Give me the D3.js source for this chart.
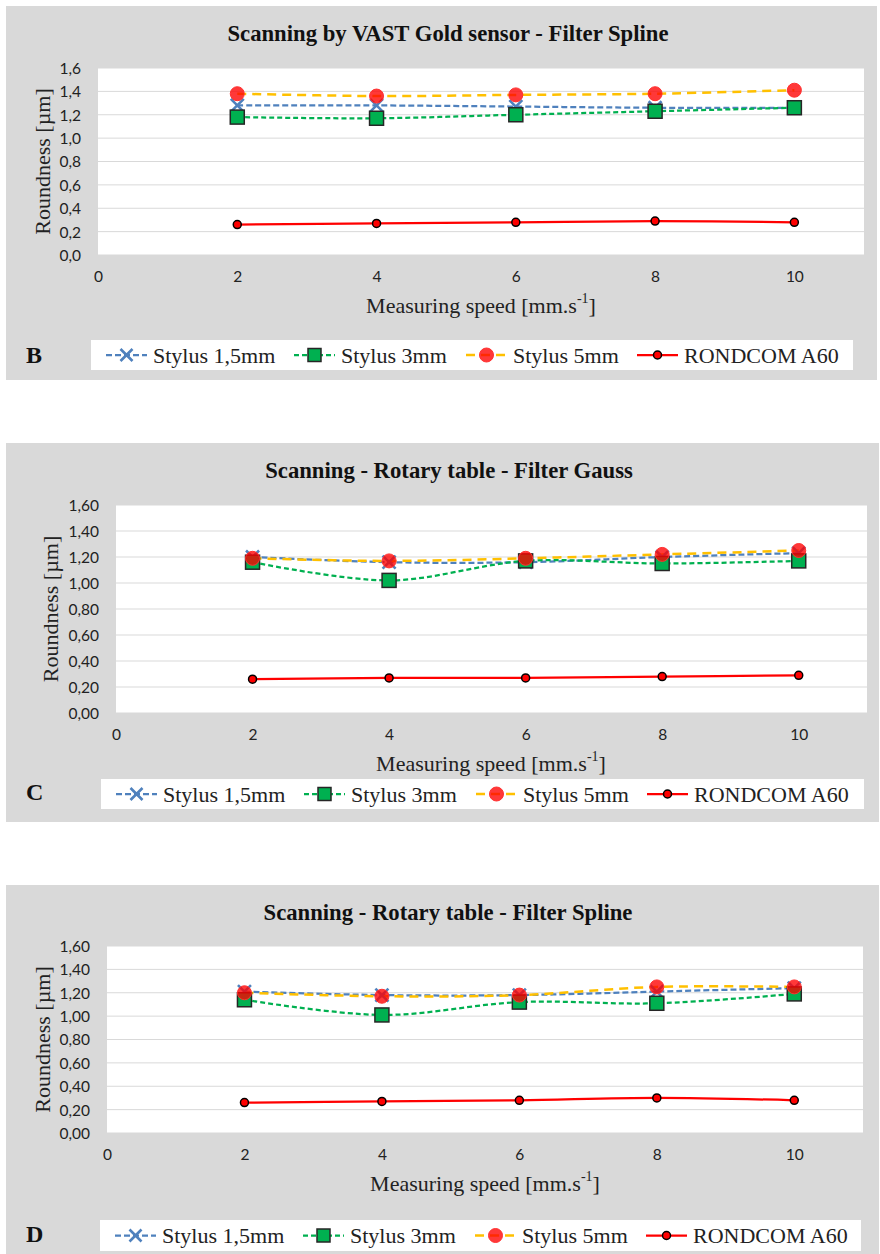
<!DOCTYPE html>
<html><head><meta charset="utf-8">
<script src="https://cdn.jsdelivr.net/npm/d3@7"></script>
<style>body{margin:0;background:#fff}</style>
</head><body><svg id="c" width="880" height="1254"></svg>
<script>
// ---------- DATA ----------
const speeds = [2, 4, 6, 8, 10];
const xTickValues = [0, 2, 4, 6, 8, 10];
const yTickValues = [0, 0.2, 0.4, 0.6, 0.8, 1.0, 1.2, 1.4, 1.6];
const seriesNames = ["Stylus 1,5mm", "Stylus 3mm", "Stylus 5mm", "RONDCOM A60"];
const panelLetters = ["B", "C", "D"];
const panelTitles = [
  "Scanning by VAST Gold sensor - Filter Spline",
  "Scanning - Rotary table - Filter Gauss",
  "Scanning - Rotary table - Filter Spline"
];
const tickDecimals = [1, 2, 2];
const xAxisTitle = "Measuring speed [mm.s";
const xAxisTitleSup = "-1";
const yAxisTitle = "Roundness [µm]";

// Panel B – VAST Gold sensor, Filter Spline
const stylus15B = [1.28, 1.28, 1.27, 1.26, 1.26];
const stylus3B  = [1.18, 1.17, 1.20, 1.23, 1.26];
const stylus5B  = [1.38, 1.36, 1.37, 1.38, 1.41];
const rondcomB  = [0.26, 0.27, 0.28, 0.29, 0.28];
// Panel C – Rotary table, Filter Gauss
const stylus15C = [1.20, 1.16, 1.16, 1.20, 1.23];
const stylus3C  = [1.16, 1.02, 1.17, 1.15, 1.17];
const stylus5C  = [1.19, 1.17, 1.19, 1.22, 1.25];
const rondcomC  = [0.26, 0.27, 0.27, 0.28, 0.29];
// Panel D – Rotary table, Filter Spline
const stylus15D = [1.21, 1.18, 1.18, 1.21, 1.24];
const stylus3D  = [1.14, 1.01, 1.12, 1.11, 1.19];
const stylus5D  = [1.20, 1.17, 1.18, 1.25, 1.25];
const rondcomD  = [0.26, 0.27, 0.28, 0.30, 0.28];

const panelData = [
  [stylus15B, stylus3B, stylus5B, rondcomB],
  [stylus15C, stylus3C, stylus5C, rondcomC],
  [stylus15D, stylus3D, stylus5D, rondcomD]
];

// ---------- STYLE / LAYOUT ----------
const styles = [
  {color: "#4F81BD", dash: "6,3", width: 2.25, marker: "x"},
  {color: "#00B050", dash: "5,3", width: 2.25, marker: "square"},
  {color: "#FFC000", dash: "9,6", width: 2.5, marker: "circle"},
  {color: "#FF0000", dash: null, width: 2.25, marker: "dot"}
];
const layouts = [
  {gray: [6, 6, 871, 374], plot: {l: 98, t: 68, r: 864, b: 255}, title: {x: 448, y: 33},
   tickY: 277, xTitle: {x: 481, y: 305}, yTitleX: 42, legend: {x: 91, y: 340, w: 762, h: 30}, letter: {x: 26, y: 355}},
  {gray: [6, 443, 873, 379], plot: {l: 116, t: 505, r: 867, b: 713}, title: {x: 449, y: 470},
   tickY: 735, xTitle: {x: 491, y: 763}, yTitleX: 50, legend: {x: 101, y: 779, w: 763, h: 30}, letter: {x: 26, y: 792}},
  {gray: [6, 885, 873, 369], plot: {l: 107, t: 946, r: 863, b: 1133}, title: {x: 448, y: 912},
   tickY: 1155, xTitle: {x: 485, y: 1183}, yTitleX: 42, legend: {x: 100, y: 1220, w: 761, h: 31}, letter: {x: 26, y: 1234}}
];
const legendOffsets = [15, 203, 375, 546];
const SERIF = "'Liberation Serif','Times New Roman',serif";
const SANS = "Lato,'Open Sans',sans-serif";

const svg = d3.select("#c");

function drawMarker(g, type, x, y, legend) {
  if (type === "x") {
    const s = legend ? 6 : 6.5;
    g.append("path").attr("d", `M${x - s},${y - s}L${x + s},${y + s}M${x - s},${y + s}L${x + s},${y - s}`)
      .attr("stroke", "#4F81BD").attr("stroke-width", 2.6).attr("fill", "none");
  } else if (type === "square") {
    const s = legend ? 6.5 : 7;
    g.append("rect").attr("x", x - s).attr("y", y - s).attr("width", 2 * s).attr("height", 2 * s)
      .attr("fill", "#00B050").attr("stroke", "#262626").attr("stroke-width", 1.5);
  } else if (type === "circle") {
    g.append("circle").attr("cx", x).attr("cy", y).attr("r", 7)
      .attr("fill", "#FF0000").attr("fill-opacity", 0.78).attr("stroke", "#FF3030").attr("stroke-width", 1);
  } else {
    g.append("circle").attr("cx", x).attr("cy", y).attr("r", 4)
      .attr("fill", "#FF0000").attr("stroke", "#000").attr("stroke-width", 1.5);
  }
}

layouts.forEach((L, pi) => {
  const g = svg.append("g");
  g.append("rect").attr("x", L.gray[0]).attr("y", L.gray[1]).attr("width", L.gray[2]).attr("height", L.gray[3])
    .attr("fill", "#D9D9D9");
  const P = L.plot;
  g.append("rect").attr("x", P.l).attr("y", P.t).attr("width", P.r - P.l).attr("height", P.b - P.t).attr("fill", "#fff");

  const x = d3.scaleLinear().domain([0, 11]).range([P.l, P.r]);
  const y = d3.scaleLinear().domain([0, 1.6]).range([P.b, P.t]);

  // gridlines
  g.selectAll(null).data(yTickValues).enter().append("line")
    .attr("x1", P.l).attr("x2", P.r).attr("y1", d => y(d)).attr("y2", d => y(d))
    .attr("stroke", "#D9D9D9").attr("stroke-width", 1);

  // y axis (labels only)
  const fmt = v => v.toFixed(tickDecimals[pi]).replace(".", ",");
  const yAxis = d3.axisLeft(y).tickValues(yTickValues).tickFormat(fmt).tickSize(0).tickPadding(17);
  const ya = g.append("g").attr("transform", `translate(${P.l},0)`).call(yAxis);
  ya.select(".domain").remove();
  ya.selectAll("text").attr("font-family", SANS).attr("font-size", 15.5).attr("fill", "#222").attr("dy", "0.35em");

  // x axis (labels only)
  const xAxis = d3.axisBottom(x).tickValues(xTickValues).tickFormat(d3.format("d")).tickSize(0).tickPadding(0);
  const xa = g.append("g").attr("transform", `translate(0,${L.tickY})`).call(xAxis);
  xa.select(".domain").remove();
  xa.selectAll("text").attr("font-family", SANS).attr("font-size", 15.5).attr("fill", "#222").attr("dy", "0.35em").attr("y", 0);

  // series lines
  const line = d3.line().x((d, i) => x(speeds[i])).y(d => y(d)).curve(d3.curveCatmullRom.alpha(0.5));
  panelData[pi].forEach((vals, si) => {
    const st = styles[si];
    g.append("path").datum(vals).attr("d", line).attr("fill", "none")
      .attr("stroke", st.color).attr("stroke-width", st.width)
      .attr("stroke-dasharray", st.dash);
  });
  panelData[pi].forEach((vals, si) => {
    vals.forEach((v, i) => drawMarker(g, styles[si].marker, x(speeds[i]), y(v), false));
  });

  // titles
  g.append("text").attr("x", L.title.x).attr("y", L.title.y).attr("text-anchor", "middle")
    .attr("dominant-baseline", "central").attr("font-family", SERIF).attr("font-weight", "bold")
    .attr("font-size", 22.7).attr("fill", "#111").text(panelTitles[pi]);
  const xt = g.append("text").attr("x", L.xTitle.x).attr("y", L.xTitle.y).attr("text-anchor", "middle")
    .attr("dominant-baseline", "central").attr("font-family", SERIF).attr("font-size", 22).attr("fill", "#222");
  xt.append("tspan").text(xAxisTitle);
  xt.append("tspan").attr("dy", -7).attr("font-size", 14).text(xAxisTitleSup);
  xt.append("tspan").attr("dy", 7).text("]");
  const cy = (P.t + P.b) / 2;
  g.append("text").attr("transform", `translate(${L.yTitleX},${cy}) rotate(-90)`).attr("text-anchor", "middle")
    .attr("dominant-baseline", "central").attr("font-family", SERIF).attr("font-size", 22).attr("fill", "#222")
    .text(yAxisTitle);

  // panel letter
  g.append("text").attr("x", L.letter.x).attr("y", L.letter.y).attr("dominant-baseline", "central")
    .attr("font-family", SERIF).attr("font-weight", "bold").attr("font-size", 24).attr("fill", "#111")
    .text(panelLetters[pi]);

  // legend
  const lg = L.legend;
  g.append("rect").attr("x", lg.x).attr("y", lg.y).attr("width", lg.w).attr("height", lg.h).attr("fill", "#fff");
  const ly = lg.y + lg.h / 2;
  seriesNames.forEach((name, si) => {
    const st = styles[si];
    const sx = lg.x + legendOffsets[si];
    g.append("line").attr("x1", sx).attr("x2", sx + 41).attr("y1", ly).attr("y2", ly)
      .attr("stroke", st.color).attr("stroke-width", st.width).attr("stroke-dasharray", st.dash);
    drawMarker(g, st.marker, sx + 20.5, ly, true);
    g.append("text").attr("x", sx + 47).attr("y", ly).attr("dominant-baseline", "central")
      .attr("font-family", SERIF).attr("font-size", 22).attr("fill", "#222").text(name);
  });
});
</script>
</body></html>
